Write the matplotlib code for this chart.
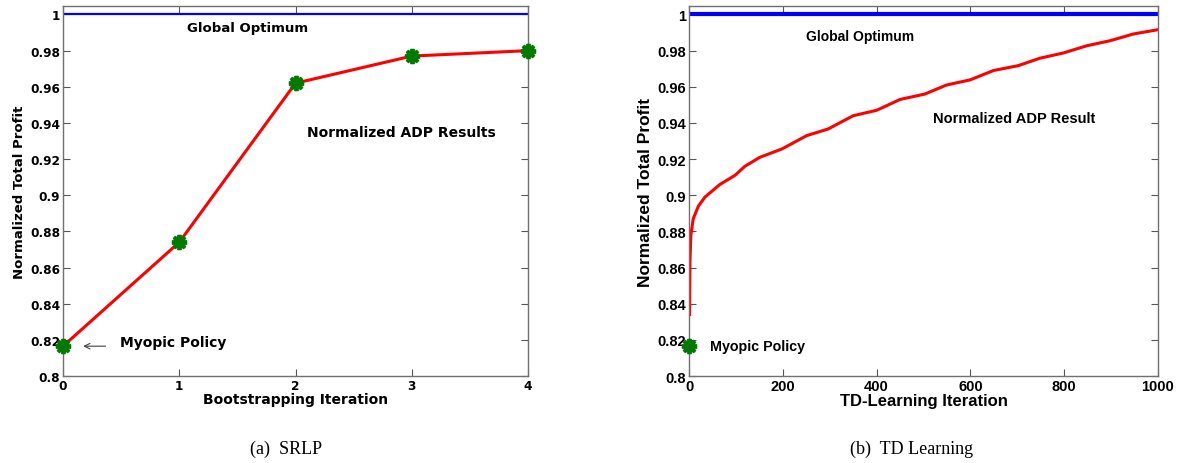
import numpy as np
import matplotlib.pyplot as plt

# SRLP bootstrapping results
boot_iter = [0, 1, 2, 3, 4]
boot_profit = [0.8165, 0.874, 0.962, 0.977, 0.980]

# TD-learning results (normalized total profit vs iteration)
td_iter = [1, 2, 4, 9, 20, 34, 66, 98, 119, 151, 198, 251, 297, 350, 400, 450,
           503, 549, 599, 649, 702, 748, 798, 848, 898, 947, 1000]
td_profit = [0.834, 0.863, 0.878, 0.887, 0.894, 0.899, 0.906, 0.911, 0.916, 0.921,
             0.9256, 0.933, 0.9367, 0.944, 0.947, 0.953, 0.956, 0.961, 0.9638,
             0.969, 0.9717, 0.9758, 0.9787, 0.9827, 0.9855, 0.9892, 0.9916]
myopic = 0.8165
optimum = 1.0

plt.rcParams['font.family'] = ['Liberation Sans', 'DejaVu Sans']
plt.rcParams['font.weight'] = 'bold'

fig = plt.figure(figsize=(11.8, 4.64), dpi=100)
ax1 = fig.add_axes([63/1180, 1-377/464, (528-63)/1180, 370/464])
ax2 = fig.add_axes([689/1180, 1-377/464, (1158-689)/1180, 370/464])

mk = dict(marker=(8, 2, 0), color='#007a00', ms=11, mew=2.8, ls='none',
          zorder=5, clip_on=False)
wide = 'DejaVu Sans'

# left panel
ax1.axhline(optimum, color='#0000ff', lw=1.6)
ax1.plot(boot_iter, boot_profit, color='#ff0000', lw=2.2)
ax1.plot(boot_iter, boot_profit, **mk)
ax1.set_xlim(0, 4)
ax1.set_xticks([0, 1, 2, 3, 4])
ax1.text(1.07, 0.993, 'Global Optimum', fontsize=9.5, family=wide, fontweight='bold', va='center')
ax1.text(2.10, 0.935, 'Normalized ADP Results', fontsize=10, family=wide, fontweight='bold', va='center')
ax1.text(0.49, 0.819, 'Myopic Policy', fontsize=10, family=wide, fontweight='bold', va='center')
ax1.annotate('', xy=(0.15, 0.8165), xytext=(0.39, 0.8165),
             arrowprops=dict(arrowstyle='->', color='#404040', lw=0.8))
ax1.set_xlabel('Bootstrapping Iteration', fontsize=10, family=wide, fontweight='bold', labelpad=0)
ax1.set_ylabel('Normalized Total Profit', fontsize=9.5, family=wide, fontweight='bold', labelpad=3)

# right panel
ax2.axhline(optimum, color='#0000ff', lw=3)
ax2.plot([0], [myopic], **mk)
ax2.plot(td_iter, td_profit, color='#ff0000', lw=2.2)
ax2.set_xlim(0, 1000)
ax2.set_xticks([0, 200, 400, 600, 800, 1000])
ax2.text(249, 0.988, 'Global Optimum', fontsize=10, fontweight='bold', va='center')
ax2.text(520, 0.943, 'Normalized ADP Result', fontsize=10.5, fontweight='bold', va='center')
ax2.text(45, 0.8167, 'Myopic Policy', fontsize=10.3, fontweight='bold', va='center')
ax2.set_xlabel('TD-Learning Iteration', fontsize=12, fontweight='bold', labelpad=0)
ax2.set_ylabel('Normalized Total Profit', fontsize=12.5, fontweight='bold', labelpad=3)

for ax, fs, fam in ((ax1, 8.7, wide), (ax2, 10.5, 'Liberation Sans')):
    ax.set_ylim(0.8, 1.0047)
    ax.set_yticks(np.arange(0.8, 1.001, 0.02))
    ax.set_yticklabels(['0.8', '0.82', '0.84', '0.86', '0.88', '0.9', '0.92',
                        '0.94', '0.96', '0.98', '1'])
    ax.tick_params(direction='in', top=True, right=True, length=5, width=0.8,
                   color='#555555', labelsize=fs, pad=2)
    for lab in ax.get_xticklabels() + ax.get_yticklabels():
        lab.set_fontweight('bold')
        lab.set_family(fam)
    for s in ax.spines.values():
        s.set_color('#707070')
        s.set_linewidth(1.0)

fig.text(286/1180, 1-449/464, '(a)  SRLP', fontsize=13, family='Liberation Serif',
         fontweight='normal', ha='center', va='center')
fig.text(912/1180, 1-449/464, '(b)  TD Learning', fontsize=13, family='Liberation Serif',
         fontweight='normal', ha='center', va='center')

fig.savefig('out.png', dpi=100)
